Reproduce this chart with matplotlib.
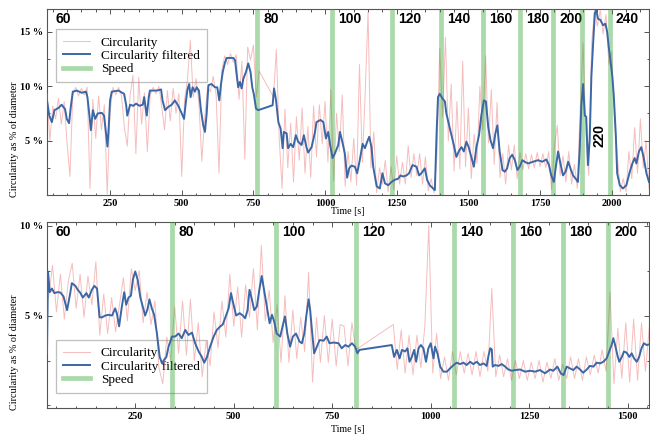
import numpy as np
import matplotlib
matplotlib.use("Agg")
import matplotlib.pyplot as plt
import matplotlib.transforms as mtransforms
from matplotlib.ticker import MultipleLocator, FuncFormatter, FixedLocator

# ---------------- data: top panel ----------------
top_raw_seg1_start = 30
top_raw_seg1 = [
    9.3, 5.0, 8.2, 7.0, 8.9, 6.5, 8.6, 4.8, 1.7, 9.2,
    9.9, 9.1, 9.8, 9.2, 9.9, 0.6, 8.8, 5.2, 9.1, 6.0,
    8.3, 0.1, 7.6, 9.9, 9.2, 9.9, 9.1, 6.2, 4.5, 9.2,
    11.0, 3.8, 10.8, 6.5, 9.4, 4.0, 9.2, 9.9, 9.3, 10.0,
    8.2, 6.0, 9.6, 6.8, 9.8, 7.5, 9.3, 1.7, 8.8, 10.6,
    14.2, 9.0, 10.7, 8.4, 3.1, 7.0, 9.9, 9.5, 10.9, 9.2,
    2.0, 11.5, 12.8, 12.0, 13.0, 12.2, 12.9, 8.8, 12.3, 3.3,
    13.6, 12.4, 13.8, 9.0, 11.4,
]
top_raw_seg2_start = 820
top_raw_seg2 = [
    9.0, 13.4, 5.2, 0.6, 7.9, 2.5, 6.6, 1.2, 7.2, 3.2,
    8.0, 2.0, 6.3, 1.6, 8.2, 3.5, 8.3, 4.7, 8.6, 3.0,
    9.7, 1.3, 7.5, 4.0, 9.2, 0.8, 4.0, 1.2, 5.2, 0.9,
    12.0, 3.0, 9.4, 16.8, 2.5, 5.8, 0.2, 2.5, 1.0, 3.2,
    0.3, 2.6, 0.5, 3.6, 1.0, 3.0, 1.0, 4.5, 1.6, 3.8,
    1.8, 3.8, 1.0, 3.5, 0.4, 1.5, 0.2, 3.5, 13.5, 7.2,
    14.5, 5.0, 10.2, 2.2, 8.6, 2.4, 12.3, 2.6, 8.0, 1.5,
    5.6, 2.9, 10.0, 6.0, 12.8, 4.8, 9.7, 2.8, 8.5, 1.6,
    3.8, 1.0, 4.6, 2.3, 4.6, 1.5, 3.9, 2.3, 3.8, 2.4,
    3.7, 2.5, 3.9, 2.6, 3.8, 2.5, 4.0, 0.5, 4.5, 6.4,
    1.8, 3.6, 1.2, 4.0, 1.0, 2.8, 0.6, 8.0, 14.0, 5.5,
    1.8, 14.0, 17.0, 15.5, 17.0, 14.8, 16.6, 12.0, 13.2, 6.5,
    3.5, 0.3, 1.5, 0.3, 4.0, 1.5, 6.2, 2.0, 7.0, 2.5,
    5.0, 0.6,
]
raw_step = 10

top_filt_t = [
    29, 38, 47, 56, 70, 81, 93, 99, 107, 113, 120, 134, 151, 166, 171, 178, 183, 190, 198, 207,
    221, 229, 236, 241, 245, 250, 256, 279, 299, 306, 310, 320, 331, 341, 352, 364, 369, 373, 378, 385,
    389, 413, 428, 433, 442, 453, 465, 476, 488, 500, 508, 515, 520, 526, 531, 538, 546, 552, 560, 567,
    575, 581, 587, 593, 604, 616, 624, 631, 637, 643, 651, 657, 680, 686, 691, 697, 703, 709, 715, 724,
    732, 740, 746, 752, 759, 767, 817, 822, 829, 837, 845, 852, 856, 866, 871, 880, 889, 898, 906, 918,
    926, 935, 941, 953, 965, 970, 984, 994, 1003, 1011, 1017, 1026, 1034, 1046, 1052, 1061, 1069, 1077, 1084, 1092,
    1104, 1112, 1121, 1131, 1139, 1147, 1154, 1162, 1168, 1180, 1191, 1200, 1209, 1220, 1232, 1243, 1255, 1263, 1272, 1284,
    1293, 1305, 1319, 1328, 1336, 1348, 1356, 1365, 1377, 1383, 1389, 1394, 1400, 1409, 1418, 1423, 1433, 1441, 1449, 1458,
    1468, 1476, 1484, 1493, 1501, 1511, 1519, 1528, 1537, 1545, 1554, 1561, 1569, 1577, 1586, 1594, 1601, 1609, 1619, 1627,
    1635, 1644, 1653, 1662, 1671, 1679, 1688, 1696, 1708, 1726, 1743, 1758, 1772, 1781, 1789, 1798, 1805, 1813, 1821, 1830,
    1839, 1848, 1856, 1865, 1877, 1882, 1888, 1894, 1900, 1906, 1911, 1917, 1923, 1929, 1935, 1941, 1946, 1952, 1960, 1970,
    1978, 1984, 1990, 1995, 2002, 2007, 2014, 2019, 2028, 2039, 2051, 2063, 2072, 2080, 2086, 2095, 2103, 2111, 2121, 2130,
]
top_filt_v = [
    8.87, 7.3, 6.7, 7.8, 8.0, 8.3, 7.9, 7.0, 6.6, 8.1, 9.5, 9.6, 9.4, 9.5, 9.0, 7.3, 5.96, 7.8, 7.0, 7.5,
    7.55, 7.3, 5.66, 4.45, 6.1, 8.7, 9.5, 9.6, 9.3, 8.3, 7.3, 8.3, 8.2, 8.4, 8.2, 8.3, 9.0, 8.2, 7.3, 9.0,
    9.6, 9.6, 9.7, 8.7, 7.8, 8.1, 8.3, 8.7, 8.2, 7.5, 7.0, 8.7, 9.7, 10.2, 9.0, 9.9, 9.5, 9.9, 9.6, 7.8,
    6.4, 5.8, 7.5, 10.1, 10.2, 9.9, 9.9, 8.7, 10.2, 11.3, 12.2, 12.6, 12.6, 12.4, 11.2, 9.9, 10.4, 9.8, 10.7, 11.3,
    12.1, 11.3, 9.9, 9.2, 7.95, 7.8, 8.25, 9.8, 8.7, 6.7, 6.1, 4.3, 5.8, 5.66, 4.3, 4.7, 4.4, 5.5, 4.9, 4.6,
    5.5, 4.4, 3.9, 4.4, 5.8, 6.7, 6.9, 6.7, 5.2, 5.8, 4.7, 3.4, 3.8, 4.6, 5.8, 4.8, 3.8, 1.6, 2.45, 2.7,
    2.6, 2.0, 3.2, 4.7, 4.3, 4.9, 5.35, 4.4, 2.6, 0.8, 0.6, 2.0, 1.07, 0.9, 1.2, 1.4, 1.5, 1.8, 1.7, 1.8,
    2.0, 2.75, 2.6, 1.8, 2.0, 2.45, 1.4, 0.9, 0.6, 0.45, 5.66, 9.0, 9.3, 8.9, 8.6, 7.5, 6.4, 5.5, 4.6, 3.5,
    4.1, 4.4, 4.0, 4.9, 4.4, 3.4, 2.6, 4.4, 5.5, 7.3, 8.7, 8.6, 6.3, 5.05, 4.3, 5.66, 6.4, 4.0, 2.3, 2.14,
    2.45, 3.4, 3.7, 3.2, 2.3, 2.6, 3.2, 3.06, 2.9, 3.06, 3.2, 3.06, 3.27, 2.75, 1.8, 1.2, 2.6, 4.0, 2.9, 1.8,
    2.14, 3.06, 2.45, 1.8, 1.4, 1.2, 4.1, 8.25, 10.2, 7.3, 7.2, 2.75, 5.05, 10.9, 13.9, 16.7, 17.0, 16.2, 16.1, 15.6,
    15.75, 15.0, 13.5, 12.5, 10.9, 9.2, 5.66, 2.0, 0.9, 0.6, 0.9, 2.14, 2.9, 3.4, 2.9, 4.0, 4.4, 3.5, 2.0, 1.2,
]
top_speeds = [60, 80, 100, 120, 140, 160, 180, 200, 220, 240]
top_speed_change_t = [763, 1023, 1232, 1403, 1551, 1681, 1795, 1898, 1993]

# ---------------- data: bottom panel ----------------
bot_raw_seg1_start = 30
bot_raw_seg1 = [
    6.0, 7.8, 5.2, 7.3, 4.8, 6.9, 7.9, 5.4, 7.3, 4.9,
    7.2, 5.6, 8.0, 3.9, 6.2, 4.0, 6.0, 4.1, 5.6, 7.1,
    4.7, 7.6, 6.4, 7.5, 4.6, 6.3, 4.5, 5.8, 2.1, 1.2,
    3.8, 2.5, 5.5, 2.9, 5.8, 2.8, 5.9, 2.5, 4.6, 1.6,
    3.6, 2.2, 5.2, 3.2, 5.8, 3.8, 7.3, 4.4, 6.6, 3.8,
    6.7, 4.9, 7.6, 4.2, 8.9, 4.7, 6.4, 3.5, 5.6, 2.4,
    6.1, 2.4, 5.3, 2.6, 4.9, 3.0, 7.4, 1.3, 4.9, 2.4,
    5.0, 2.4, 4.8, 2.2, 4.5, 4.4, 2.2, 4.6, 3.1,
]
bot_raw_seg2_start = 905
bot_raw_seg2 = [
    4.5, 2.0, 4.2, 1.8, 3.9, 1.7, 3.9, 2.1, 4.4, 10.0,
    1.8, 4.0, 1.5, 2.7, 1.4, 3.0, 1.7, 3.0, 1.8, 2.9,
    1.7, 3.0, 1.6, 3.0, 1.9, 6.5, 1.6, 2.8, 1.6, 2.6,
    1.4, 2.5, 1.5, 2.5, 1.4, 2.4, 1.5, 2.5, 1.3, 2.4,
    1.5, 2.6, 1.4, 2.3, 1.5, 2.7, 1.5, 2.6, 1.4, 2.7,
    1.7, 2.8, 1.8, 3.1, 1.9, 6.3, 1.2, 4.3, 1.5, 4.6,
    1.3, 4.8, 1.4, 4.6, 1.9, 4.4,
]

bot_filt_t = [
    26, 28.5, 33, 38.6, 44.5, 53, 60, 68, 77, 85, 89, 98, 104, 110, 117, 126, 132, 140, 146, 153,
    159.5, 165.4, 174, 182, 191, 199, 203.5, 209, 216, 222, 227, 233, 239, 244, 250, 256, 263, 269, 275, 281,
    286, 292, 298, 305, 312, 318, 322, 329, 334.5, 339, 343, 351, 360, 368, 377, 385, 394, 402, 411, 419,
    425, 432, 440, 449, 457, 466, 472, 478, 487, 493, 499, 506, 515, 523, 529, 535, 540, 546, 552, 558.6,
    565, 571, 577, 584, 591, 597, 602.6, 609, 618, 625, 630, 636, 643, 650, 658, 667, 673, 679, 684, 690,
    694, 698, 704, 711, 718, 728, 736, 743, 753, 766, 774, 783, 791, 800, 808, 814, 819, 901, 907, 914,
    921, 927, 935, 941, 946, 952, 958, 963, 969, 975, 981.5, 988, 994, 1000, 1007, 1011, 1017, 1024, 1032, 1041,
    1049, 1058, 1066, 1074.5, 1083, 1091, 1100, 1108, 1117, 1125, 1134, 1142, 1146, 1151, 1155, 1157.3, 1163, 1172, 1180, 1189,
    1197, 1206, 1214, 1227, 1239.4, 1252, 1265, 1277.4, 1290, 1303, 1311, 1321.4, 1330, 1337, 1345, 1353.5, 1362, 1370.4, 1379, 1387,
    1396, 1404, 1413, 1421, 1430, 1438, 1446.5, 1453, 1459, 1463.5, 1468, 1473.6, 1478.6, 1485, 1490.5, 1497, 1504, 1510, 1516, 1523,
    1529, 1535, 1541, 1548, 1555,
]
bot_filt_v = [
    2.9, 7.45, 6.3, 6.5, 6.25, 6.3, 6.28, 6.06, 5.3, 6.25, 6.8, 6.65, 6.43, 6.28, 6.0, 6.25, 6.0, 6.43, 6.65, 6.5,
    4.9, 4.9, 5.0, 5.04, 5.0, 5.4, 5.1, 4.4, 5.5, 6.3, 5.6, 6.0, 6.1, 7.0, 7.45, 7.0, 6.0, 5.5, 5.0, 5.35,
    5.9, 5.4, 5.04, 4.0, 2.7, 2.34, 2.5, 2.7, 3.27, 3.55, 3.83, 3.83, 4.0, 3.74, 4.2, 3.92, 4.05, 3.46, 3.0, 2.7,
    2.38, 2.7, 3.27, 3.83, 4.2, 4.4, 4.5, 4.85, 5.4, 6.25, 5.65, 5.0, 5.13, 5.0, 4.85, 5.3, 6.43, 5.9, 5.3, 5.5,
    6.43, 7.2, 6.43, 5.5, 4.57, 5.04, 4.67, 4.0, 3.83, 4.5, 4.95, 4.0, 3.27, 3.83, 4.0, 3.55, 3.46, 4.0, 4.95, 5.9,
    5.3, 4.3, 2.9, 3.27, 3.64, 3.6, 3.83, 3.46, 3.5, 3.46, 3.18, 3.36, 3.27, 3.46, 3.27, 2.9, 3.09, 3.36, 2.7, 3.09,
    2.62, 3.09, 3.0, 3.18, 2.43, 2.7, 3.09, 2.43, 3.18, 3.36, 3.18, 2.43, 3.18, 3.46, 2.62, 3.27, 2.9, 2.16, 1.88, 1.88,
    2.06, 2.25, 2.38, 2.3, 2.38, 2.25, 2.43, 2.3, 2.43, 2.25, 2.34, 2.2, 2.7, 3.18, 3.12, 2.16, 2.25, 2.2, 2.3, 2.16,
    2.0, 1.93, 1.97, 2.0, 1.88, 1.93, 1.88, 1.97, 1.79, 2.0, 1.93, 2.16, 1.79, 1.69, 2.16, 2.06, 1.97, 2.16, 2.0, 1.82,
    2.0, 2.2, 2.16, 2.38, 2.34, 2.43, 2.62, 3.0, 3.36, 3.74, 3.36, 2.81, 2.43, 2.7, 3.0, 2.94, 2.7, 2.9, 2.62, 2.43,
    2.7, 3.18, 3.46, 3.36, 3.4,
]
bot_speeds = [60, 80, 100, 120, 140, 160, 180, 200]
bot_speed_change_t = [343, 607, 811, 1060, 1208, 1335, 1451]

# ---------------- styling ----------------
W, H = 650, 438
RAW_C = "#ec7c7c"
BLUE = "#3b67a6"
GREEN = "#2ca02c"
SPINE = "#555555"
SERIF = ["Liberation Serif", "DejaVu Serif"]
SANS = ["Liberation Sans", "DejaVu Sans"]

fig = plt.figure(figsize=(6.5, 4.38), dpi=100)


def add_ax(top_px, bottom_px):
    return fig.add_axes([47 / W, 1 - bottom_px / H, 602 / W, (bottom_px - top_px) / H])


def raw_series(start1, seg1, start2, seg2):
    t = np.r_[start1 + raw_step * np.arange(len(seg1)), start2 + raw_step * np.arange(len(seg2))]
    v = np.r_[seg1, seg2]
    return t, v


def panel(ax, raw_t, raw_v, ft, fv, speeds, change_t, xlim, ylim, yticks, yminor,
          leg_anchor, xlabel_y, rot_speed=None):
    ax.plot(raw_t, raw_v, color=RAW_C, lw=0.7, alpha=0.5, zorder=3, label="Circularity")
    ax.plot(ft, fv, color=BLUE, lw=1.4, zorder=5, label="Circularity filtered")
    for i, t in enumerate(change_t):
        ax.axvline(t, color=GREEN, alpha=0.4, lw=3.4, zorder=4, label="Speed" if i == 0 else None)

    ax.set_xlim(*xlim)
    ax.set_ylim(*ylim)
    trans = mtransforms.blended_transform_factory(ax.transData, ax.transAxes)
    fs_sp = 10
    ax.annotate(str(speeds[0]), xy=(xlim[0], 0.948), xycoords=trans, xytext=(6.3, 0),
                textcoords="offset points", ha="left", va="center",
                fontsize=fs_sp, fontweight="bold", family=SANS)
    for sp, t in zip(speeds[1:], change_t):
        if sp == rot_speed:
            ax.annotate(str(sp), xy=(t, 0.32), xycoords=trans, xytext=(12.5, 0),
                        textcoords="offset points", ha="center", va="center", rotation=90,
                        fontsize=fs_sp, fontweight="bold", family=SANS)
        else:
            ax.annotate(str(sp), xy=(t, 0.948), xycoords=trans, xytext=(4.5, 0),
                        textcoords="offset points", ha="left", va="center",
                        fontsize=fs_sp, fontweight="bold", family=SANS)

    ax.yaxis.set_major_locator(FixedLocator(yticks))
    ax.yaxis.set_major_formatter(FuncFormatter(lambda v, p: f"{v:.0f} %"))
    ax.yaxis.set_minor_locator(MultipleLocator(yminor))
    ax.xaxis.set_major_locator(MultipleLocator(250))
    ax.xaxis.set_minor_locator(MultipleLocator(50))
    ax.tick_params(which="both", direction="in", top=True, right=True, color=SPINE, width=0.7)
    ax.tick_params(which="major", length=3.5, labelsize=7.4, pad=3)
    ax.tick_params(which="minor", length=1.8)
    for lab in ax.get_xticklabels() + ax.get_yticklabels():
        lab.set_fontfamily(SERIF)
        lab.set_fontweight("bold")
    for s in ax.spines.values():
        s.set_color(SPINE)
        s.set_linewidth(0.8)

    ax.set_xlabel("Time [s]", fontsize=7.2, family=SERIF)
    ax.xaxis.set_label_coords(0.5, xlabel_y)
    ax.set_ylabel("Circularity as % of diameter", fontsize=7.3, family=SERIF)
    ax.yaxis.set_label_coords(-0.047, 0.3)

    leg = ax.legend(loc="upper left", bbox_to_anchor=leg_anchor, borderaxespad=0,
                    prop={"family": SERIF, "size": 9.5}, fancybox=False, frameon=True,
                    handlelength=2.0, handletextpad=0.85, labelspacing=0.08, borderpad=0.55)
    fr = leg.get_frame()
    fr.set_facecolor("none")
    fr.set_edgecolor("#b0b0b0")
    fr.set_linewidth(0.9)
    leg.set_zorder(1)


ax1 = add_ax(9, 195)
ax2 = add_ax(222, 408)

t1, v1 = raw_series(top_raw_seg1_start, top_raw_seg1, top_raw_seg2_start, top_raw_seg2)
panel(ax1, t1, v1, top_filt_t, top_filt_v, top_speeds, top_speed_change_t,
      (30, 2130), (0, 17.1), [5, 10, 15], 2.5, (0.015, 0.892), -0.062, rot_speed=220)

t2, v2 = raw_series(bot_raw_seg1_start, bot_raw_seg1, bot_raw_seg2_start, bot_raw_seg2)
panel(ax2, t2, v2, bot_filt_t, bot_filt_v, bot_speeds, bot_speed_change_t,
      (26, 1554), (-0.14, 10.2), [5, 10], 2.5, (0.015, 0.367), -0.09)

fig.savefig("out.png", dpi=100)
